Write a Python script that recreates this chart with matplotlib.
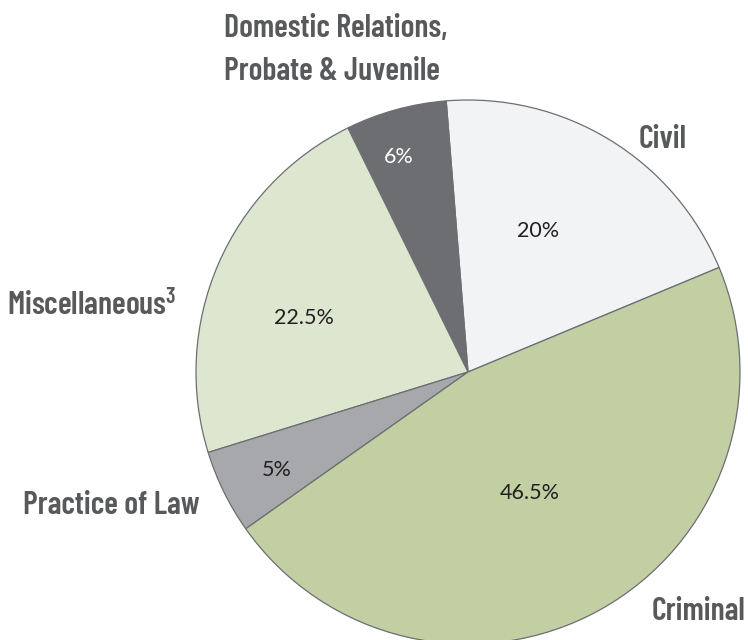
import matplotlib
matplotlib.use("Agg")
import matplotlib.pyplot as plt
import numpy as np

# slices, counter-clockwise starting at the Civil/Criminal boundary
categories = ["Civil", "Domestic Relations,\nProbate & Juvenile", "Miscellaneous$^3$", "Practice of Law", "Criminal"]
shares = [20, 6, 22.5, 5, 46.5]
pct_labels = ["20%", "6%", "22.5%", "5%", "46.5%"]

colors = ["#F2F3F5", "#6D6E72", "#DDE6CF", "#A7A8AC", "#C1CFA3"]
pct_dist = [0.58, 0.83, 0.635, 0.79, 0.50]
pct_shift = [5, 2.5, 5, 1, -2]  # small angular nudges (deg)

W, H = 748, 640
cx, cy, R = 468, 372, 272

plt.rcParams["mathtext.fontset"] = "custom"
plt.rcParams["mathtext.rm"] = "Barlow Condensed:semibold"
plt.rcParams["mathtext.it"] = "Barlow Condensed:semibold"

fig = plt.figure(figsize=(W / 100, H / 100), dpi=100)
ax = fig.add_axes([0, 0, 1, 1])

start = 22.6
wedges, _ = ax.pie(shares, colors=colors, startangle=start, counterclock=True,
                   radius=1, center=(0, 0), frame=True,
                   wedgeprops=dict(edgecolor="#6D6E72", linewidth=0.9))
ax.set_xlim(-cx / R, (W - cx) / R)
ax.set_ylim(-(H - cy) / R, cy / R)
ax.set_aspect("equal")
ax.axis("off")

for w, lab, d, sh in zip(wedges, pct_labels, pct_dist, pct_shift):
    mid = np.deg2rad((w.theta1 + w.theta2) / 2 + sh)
    ax.text(d * np.cos(mid), d * np.sin(mid), lab, ha="center", va="center",
            fontsize=15.5, family=["Lato", "DejaVu Sans"], fontweight="normal",
            color="#231F20" if lab != "6%" else "#FFFFFF")

cat_font = dict(family=["Barlow Condensed", "Roboto Condensed", "DejaVu Sans"], fontweight="semibold",
                fontsize=23, color="#58595B")

def px(x, y):
    return x / W, 1 - y / H

fig.text(*px(224, 50), categories[1], ha="left", va="center", linespacing=1.6, **cat_font)
fig.text(*px(663, 139), categories[0], ha="center", va="center", **cat_font)
fig.text(*px(176, 305), categories[2], ha="right", va="center", **cat_font)
fig.text(*px(200, 506), categories[3], ha="right", va="center", **cat_font)
fig.text(*px(745, 611), categories[4], ha="right", va="center", **cat_font)

fig.savefig("out.png", dpi=100, facecolor="white")
